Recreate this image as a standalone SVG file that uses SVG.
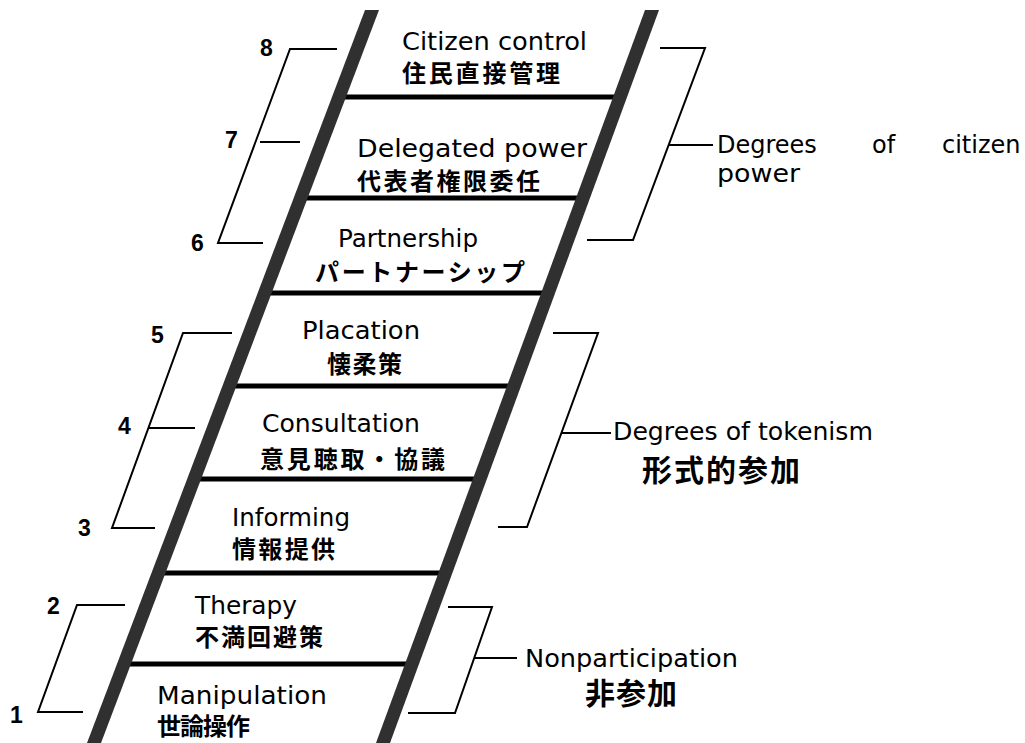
<svg xmlns="http://www.w3.org/2000/svg" width="1025" height="743" viewBox="0 0 1025 743">
<style>
.en{font-family:"DejaVu Sans","Liberation Sans",sans-serif;font-size:24px;fill:#000}
.ja{font-family:"Noto Sans CJK JP","Noto Sans CJK SC",sans-serif;font-size:24px;font-weight:700;fill:#000}
.jab{font-family:"Noto Sans CJK JP","Noto Sans CJK SC",sans-serif;font-size:30px;font-weight:700;fill:#000}
.num{font-family:"Liberation Sans",Arial,sans-serif;font-size:23px;font-weight:700;fill:#000}
.rung{stroke:#000;stroke-width:5;fill:none}
.rail{fill:#303030}
.br{stroke:#000;stroke-width:2;fill:none}
</style>
<rect width="1025" height="743" fill="#fff"/>
<g id="ladder">
<g id="rungs">
<line class="rung" x1="339" y1="97" x2="620" y2="97"/>
<line class="rung" x1="301" y1="198" x2="583" y2="198"/>
<line class="rung" x1="265" y1="293" x2="548" y2="293"/>
<line class="rung" x1="230" y1="386" x2="514" y2="386"/>
<line class="rung" x1="194" y1="479" x2="480" y2="479"/>
<line class="rung" x1="159" y1="573" x2="445" y2="573"/>
<line class="rung" x1="124" y1="664" x2="412" y2="664"/>
</g>
<polygon id="rail-left" class="rail" points="365,10 379,10 101,743 87,743"/>
<polygon id="rail-right" class="rail" points="645,10 659,10 390,743 376,743"/>
</g>
<g id="connectors">
<polyline class="br" points="337,49 290,49 218,243 263,243"/>
<line class="br" x1="260" y1="142" x2="300" y2="142"/>
<polyline class="br" points="232,333 183,333 112,528 155,528"/>
<line class="br" x1="148" y1="428" x2="195" y2="428"/>
<polyline class="br" points="125,605 77,605 38,712 83,712"/>
<polyline class="br" points="660,48 705,48 633,240 587,240"/>
<line class="br" x1="669" y1="145" x2="713" y2="145"/>
<polyline class="br" points="553,333 598,333 527,527 498,527"/>
<line class="br" x1="561" y1="433" x2="611" y2="433"/>
<polyline class="br" points="448,607 492,607 455,713 408,713"/>
<line class="br" x1="474" y1="658" x2="517" y2="658"/>
</g>
<g id="numbers">
<text class="num" x="260" y="56">8</text>
<text class="num" x="225" y="148">7</text>
<text class="num" x="191" y="251">6</text>
<text class="num" x="151" y="343">5</text>
<text class="num" x="118" y="434">4</text>
<text class="num" x="78" y="536">3</text>
<text class="num" x="47" y="614">2</text>
<text class="num" x="10" y="723">1</text>
</g>
<g id="step8">
<text class="en" x="402" y="50" textLength="185" lengthAdjust="spacingAndGlyphs">Citizen control</text>
<text class="ja" x="402" y="82" textLength="158" lengthAdjust="spacing">住民直接管理</text>
</g>
<g id="step7">
<text class="en" x="357" y="157" textLength="230" lengthAdjust="spacingAndGlyphs">Delegated power</text>
<text class="ja" x="357" y="190" textLength="183" lengthAdjust="spacing">代表者権限委任</text>
</g>
<g id="step6">
<text class="en" x="338" y="247" textLength="140" lengthAdjust="spacingAndGlyphs">Partnership</text>
<text class="ja" x="315" y="281" textLength="210" lengthAdjust="spacing">パートナーシップ</text>
</g>
<g id="step5">
<text class="en" x="302" y="339" textLength="118" lengthAdjust="spacingAndGlyphs">Placation</text>
<text class="ja" x="327" y="373" textLength="75" lengthAdjust="spacing">懐柔策</text>
</g>
<g id="step4">
<text class="en" x="262" y="432" textLength="158" lengthAdjust="spacingAndGlyphs">Consultation</text>
<text class="ja" x="260" y="468" textLength="185" lengthAdjust="spacing">意見聴取・協議</text>
</g>
<g id="step3">
<text class="en" x="232" y="526" textLength="118" lengthAdjust="spacingAndGlyphs">Informing</text>
<text class="ja" x="232" y="558" textLength="103" lengthAdjust="spacing">情報提供</text>
</g>
<g id="step2">
<text class="en" x="195" y="614" textLength="102" lengthAdjust="spacingAndGlyphs">Therapy</text>
<text class="ja" x="195" y="646" textLength="128" lengthAdjust="spacing">不満回避策</text>
</g>
<g id="step1">
<text class="en" x="157" y="704" textLength="170" lengthAdjust="spacingAndGlyphs">Manipulation</text>
<text class="ja" x="157" y="735" textLength="93" lengthAdjust="spacing">世論操作</text>
</g>
<g id="group-citizen-power">
<text class="en" y="153"><tspan x="717">Degrees</tspan><tspan x="872">of</tspan><tspan x="942">citizen</tspan></text>
<text class="en" x="717" y="182" textLength="83" lengthAdjust="spacingAndGlyphs">power</text>
</g>
<g id="group-tokenism">
<text class="en" x="613" y="440" textLength="260" lengthAdjust="spacingAndGlyphs">Degrees of tokenism</text>
<text class="jab" x="642" y="481" textLength="158" lengthAdjust="spacing">形式的参加</text>
</g>
<g id="group-nonparticipation">
<text class="en" x="525" y="667" textLength="213" lengthAdjust="spacingAndGlyphs">Nonparticipation</text>
<text class="jab" x="585" y="704" textLength="92" lengthAdjust="spacing">非参加</text>
</g>
</svg>
